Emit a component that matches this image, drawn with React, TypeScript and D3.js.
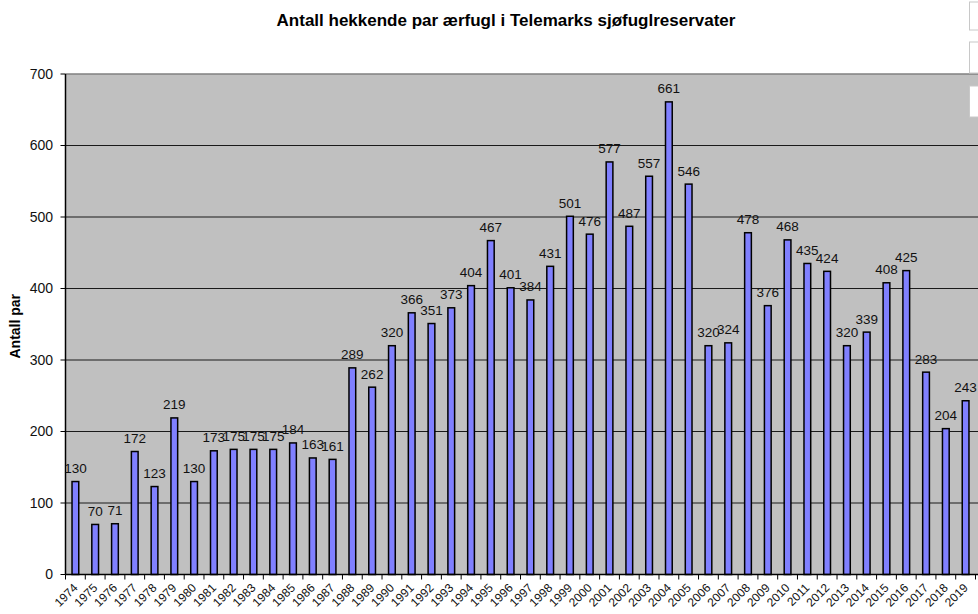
import * as d3 from "d3";

const years = [
  "1974", "1975", "1976", "1977", "1978", "1979", "1980", "1981", "1982", "1983",
  "1984", "1985", "1986", "1987", "1988", "1989", "1990", "1991", "1992", "1993",
  "1994", "1995", "1996", "1997", "1998", "1999", "2000", "2001", "2002", "2003",
  "2004", "2005", "2006", "2007", "2008", "2009", "2010", "2011", "2012", "2013",
  "2014", "2015", "2016", "2017", "2018", "2019",
];

const pairs = [
  130, 70, 71, 172, 123, 219, 130, 173, 175, 175,
  175, 184, 163, 161, 289, 262, 320, 366, 351, 373,
  404, 467, 401, 384, 431, 501, 476, 577, 487, 557,
  661, 546, 320, 324, 478, 376, 468, 435, 424, 320,
  339, 408, 425, 283, 204, 243,
];

const yTicks = [0, 100, 200, 300, 400, 500, 600, 700];

const title = "Antall hekkende par ærfugl i Telemarks sjøfuglreservater";
const yTitle = "Antall par";

const font = "'Liberation Sans', Arial, sans-serif";

export default function App() {
  const width = 978;
  const height = 614;
  const left = 65.5;
  const right = 975.5;
  const top = 74;
  const bottom = 574.5;

  const x = d3.scaleBand<string>()
    .domain(years)
    .range([left, right])
    .paddingInner(0.66)
    .paddingOuter(0.33);

  const y = d3.scaleLinear().domain([0, 700]).range([bottom, top]);

  const step = x.step();
  const bw = x.bandwidth();
  const gap = (step - bw) / 2;
  const boundaries = years.map(d => x(d)! - gap).concat([x(years[years.length - 1])! + bw + gap]);

  return (
    <svg
      width={width}
      height={height}
      style={{ position: "absolute", left: 0, top: 0, background: "#fff" }}
      fontFamily={font}
    >
      <text x={506} y={26} textAnchor="middle" fontSize={17} fontWeight={700} fill="#000">
        {title}
      </text>

      {/* plot area */}
      <rect x={left} y={top} width={width - left + 5} height={bottom - top} fill="#c0c0c0" />
      <line x1={left} x2={width} y1={top} y2={top} stroke="#808080" strokeWidth={1.5} />

      {yTicks.filter(t => t > 0 && t < 700).map(t => (
        <line key={t} x1={left} x2={width} y1={y(t)} y2={y(t)} stroke="#1a1a1a" strokeWidth={1} />
      ))}

      {/* y axis */}
      <line x1={left} x2={left} y1={top} y2={bottom} stroke="#000" strokeWidth={1.5} />
      {yTicks.map(t => (
        <g key={t}>
          <line x1={left - 5} x2={left} y1={y(t)} y2={y(t)} stroke="#000" strokeWidth={1} />
          <text x={53} y={y(t)} dy="0.35em" textAnchor="end" fontSize={14} fill="#111">
            {t}
          </text>
        </g>
      ))}
      <text
        transform={`translate(20,${(top + bottom) / 2 + 2}) rotate(-90)`}
        textAnchor="middle"
        fontSize={14}
        fontWeight={700}
        fill="#000"
      >
        {yTitle}
      </text>

      {/* bars */}
      {years.map((d, i) => (
        <rect
          key={d}
          x={x(d)}
          y={y(pairs[i])}
          width={bw}
          height={bottom - y(pairs[i])}
          fill="#8080ff"
          stroke="#000"
          strokeWidth={1.5}
        />
      ))}

      {/* x axis */}
      <line x1={left} x2={width} y1={bottom} y2={bottom} stroke="#000" strokeWidth={1.5} />
      {boundaries.map((b, i) => (
        <line key={i} x1={b} x2={b} y1={bottom} y2={bottom + 5} stroke="#000" strokeWidth={1} />
      ))}
      {years.map(d => {
        const cx = x(d)! + bw / 2 + 3;
        return (
          <text
            key={d}
            transform={`translate(${cx},${bottom + 14}) rotate(-45)`}
            textAnchor="end"
            fontSize={12}
            fill="#111"
          >
            {d}
          </text>
        );
      })}

      {/* data labels */}
      {years.map((d, i) => (
        <text
          key={d}
          x={x(d)! + bw / 2}
          y={y(pairs[i]) - 8.5}
          textAnchor="middle"
          fontSize={13.5}
          fill="#111"
        >
          {pairs[i]}
        </text>
      ))}

      {/* legend boxes cut off at the right edge */}
      {[[2, 28], [42, 31], [86, 31]].map(([by, bh], i) => (
        <rect key={i} x={969.5} y={by} width={12} height={bh} fill="#fff" stroke="#c8c8c8" strokeWidth={1} />
      ))}
    </svg>
  );
}
